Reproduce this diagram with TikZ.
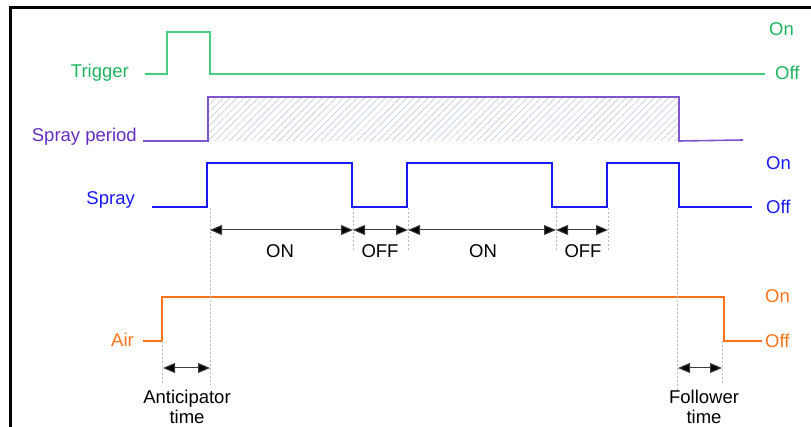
\documentclass[tikz,border=0pt]{standalone}
\usepackage{fontspec}
\setmainfont{Liberation Sans}
\usetikzlibrary{arrows.meta,patterns.meta}
\definecolor{trig}{RGB}{70,205,130}
\definecolor{trigtext}{RGB}{30,180,95}
\definecolor{period}{RGB}{125,85,205}
\definecolor{periodtext}{RGB}{100,45,190}
\definecolor{hatch}{RGB}{185,195,222}
\definecolor{spray}{RGB}{25,25,255}
\definecolor{air}{RGB}{255,115,25}
\definecolor{guidegray}{RGB}{185,185,185}
\definecolor{dimgray}{RGB}{60,60,60}
\begin{document}
\begin{tikzpicture}[x=1pt,y=-1pt]
  \tikzset{
    siglabel/.style={
      anchor=east,
      inner sep=0pt,
      font=\fontsize{18.5}{21}\selectfont
    },
    statelabel/.style={
      anchor=west,
      inner sep=0pt,
      font=\fontsize{18.5}{21}\selectfont
    },
    dimlabel/.style={
      align=center,
      inner sep=0pt,
      font=\fontsize{18.5}{20.5}\selectfont
    },
    wave/.style={line width=1.6pt},
    guide/.style={draw=guidegray, line width=0.6pt, dash pattern=on 2pt off 2pt},
    dimarrow/.style={draw=dimgray, line width=1pt,
      {Triangle[length=12pt,width=10pt,fill=black]}-{Triangle[length=12pt,width=10pt,fill=black]}}
  }

  \useasboundingbox (0,0) rectangle (811,427);
  \draw[line width=3pt] (10,427) -- (10,8) -- (811,8);

  % trigger
  \node[siglabel, text=trigtext] (trigger) at (129,73) {Trigger};
  \node[statelabel, text=trigtext] (trigon) at (769,29) {On};
  \node[statelabel, text=trigtext] (trigoff) at (775,73) {Off};
  \draw[wave, trig] (145,74) -- (167,74) -- (167,32) -- (210,32) -- (210,74) -- (765,74);

  % spray period
  \node[siglabel, text=periodtext] (period) at (137,137) {Spray period};
  \fill[pattern={Lines[angle=45,distance=5pt,line width=0.5pt]}, pattern color=hatch]
    (208,97) rectangle (679,141);
  \draw[wave, period] (143,141) -- (208,141) -- (208,97) -- (679,97) -- (679,141) -- (743,140);

  % spray
  \node[siglabel, text=spray] (spraylbl) at (135,200) {Spray};
  \node[statelabel, text=spray] (sprayon) at (766,163) {On};
  \node[statelabel, text=spray] (sprayoff) at (766,207) {Off};
  \draw[wave, spray] (152,207) -- (207,207) -- (207,163) -- (352,163) -- (352,207)
    -- (407,207) -- (407,163) -- (552,163) -- (552,207) -- (607,207) -- (607,163)
    -- (679,163) -- (679,207) -- (752,207);

  % air
  \node[siglabel, text=air] (airlbl) at (134,340) {Air};
  \node[statelabel, text=air] (airon) at (765,296) {On};
  \node[statelabel, text=air] (airoff) at (765,341) {Off};
  \draw[wave, air] (143,341) -- (162,341) -- (162,297) -- (724,297) -- (724,341) -- (762,341);

  % guide lines
  \coordinate (g1a) at (210,208); \coordinate (g1b) at (210,385);
  \coordinate (g2a) at (353,208); \coordinate (g2b) at (353,250);
  \coordinate (g3a) at (408,208); \coordinate (g3b) at (408,250);
  \coordinate (g4a) at (556,208); \coordinate (g4b) at (556,250);
  \coordinate (g5a) at (608,208); \coordinate (g5b) at (608,250);
  \coordinate (g6a) at (677,208); \coordinate (g6b) at (677,390);
  \coordinate (g7a) at (162,341); \coordinate (g7b) at (162,385);
  \coordinate (g8a) at (722,341); \coordinate (g8b) at (722,385);
  \draw[guide] (g1a) -- (g1b);
  \draw[guide] (g2a) -- (g2b);
  \draw[guide] (g3a) -- (g3b);
  \draw[guide] (g4a) -- (g4b);
  \draw[guide] (g5a) -- (g5b);
  \draw[guide] (g6a) -- (g6b);
  \draw[guide] (g7a) -- (g7b);
  \draw[guide] (g8a) -- (g8b);

  % on/off durations
  \coordinate (d1) at (210,230);
  \coordinate (d2) at (353,230);
  \coordinate (d3) at (408,230);
  \coordinate (d4) at (556,230);
  \coordinate (d5) at (608,230);
  \draw[dimarrow] (d1) -- (d2);
  \draw[dimarrow] (d2) -- (d3);
  \draw[dimarrow] (d3) -- (d4);
  \draw[dimarrow] (d4) -- (d5);
  \node[dimlabel] (on1) at (280,251) {ON};
  \node[dimlabel] (off1) at (380,251) {OFF};
  \node[dimlabel] (on2) at (483,251) {ON};
  \node[dimlabel] (off2) at (583,251) {OFF};

  % anticipator / follower
  \coordinate (a1) at (163,368);
  \coordinate (a2) at (210,368);
  \coordinate (f1) at (678,368);
  \coordinate (f2) at (722,368);
  \draw[dimarrow] (a1) -- (a2);
  \draw[dimarrow] (f1) -- (f2);
  \node[dimlabel] (antic) at (187,407) {Anticipator\\time};
  \node[dimlabel] (follow) at (704,407) {Follower\\time};
\end{tikzpicture}
\end{document}
